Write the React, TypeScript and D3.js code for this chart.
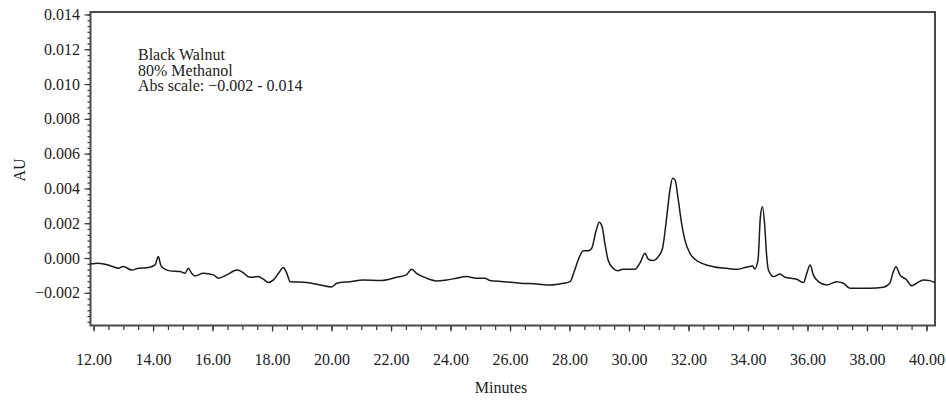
import * as d3 from 'd3'

const minutes = [
  11.88, 12.14, 12.54, 12.82, 12.98, 13.27, 13.49, 13.83, 14.05, 14.16, 14.24, 14.33, 14.55, 14.89,
  15.06, 15.17, 15.28, 15.39, 15.67, 16.01, 16.18, 16.46, 16.8, 16.96, 17.24, 17.52, 17.69, 17.86,
  18.03, 18.2, 18.36, 18.48, 18.59, 19.15, 19.6, 19.99, 20.16, 20.6, 21.05, 21.61, 22.17, 22.5,
  22.67, 22.84, 23.18, 23.51, 23.85, 24.19, 24.52, 24.86, 25.14, 25.31, 25.76, 26.32, 26.88, 27.33,
  27.78, 28.0, 28.14, 28.3, 28.45, 28.62, 28.73, 28.87, 28.98, 29.08, 29.17, 29.28, 29.45, 29.61,
  29.78, 30.18, 30.35, 30.52, 30.63, 30.78, 30.97, 31.11, 31.24, 31.36, 31.45, 31.53, 31.64, 31.75,
  31.86, 32.03, 32.2, 32.48, 32.81, 33.26, 33.6, 33.93, 34.14, 34.21, 34.32, 34.4, 34.47, 34.55,
  34.6, 34.67, 34.84, 35.06, 35.23, 35.62, 35.85, 35.96, 36.07, 36.18, 36.35, 36.63, 36.96, 37.19,
  37.41, 37.75, 38.08, 38.53, 38.75, 38.87, 38.96, 39.09, 39.32, 39.48, 39.65, 39.88, 40.1, 40.25,
]

const absorbance = [
  -0.00031, -0.00027, -0.00041, -0.00056, -0.00046, -0.00066, -0.00056, -0.00052, -0.00037, 0.00011,
  -0.00037, -0.00056, -0.00071, -0.00075, -0.00085, -0.00056, -0.00085, -0.001, -0.00085, -0.00094,
  -0.00113, -0.00094, -0.00066, -0.00075, -0.00108, -0.00104, -0.00119, -0.00138, -0.00123,
  -0.00085, -0.00052, -0.00085, -0.00133, -0.00138, -0.00152, -0.00163, -0.00142, -0.00133,
  -0.00123, -0.00127, -0.00108, -0.00094, -0.00062, -0.00085, -0.00113, -0.00129, -0.00123,
  -0.00113, -0.00104, -0.00113, -0.00113, -0.00127, -0.00133, -0.00142, -0.00146, -0.00152,
  -0.00142, -0.00133, -0.00075, 0.00003, 0.00045, 0.00045, 0.00059, 0.00155, 0.00209, 0.00183,
  0.00088, -0.00008, -0.00056, -0.0007, -0.00062, -0.00062, -0.00027, 0.0003, -0.00004, -0.00012,
  0.00011, 0.00059, 0.00222, 0.00394, 0.00461, 0.00452, 0.00337, 0.00203, 0.00107, 0.0003,
  -0.00004, -0.00031, -0.00047, -0.00056, -0.00062, -0.0005, -0.00043, -0.0006, -0.00008, 0.00241,
  0.00298, 0.0018, 0.0004, -0.00066, -0.00104, -0.00089, -0.00108, -0.00119, -0.00138, -0.00085,
  -0.00037, -0.00094, -0.00133, -0.00152, -0.00133, -0.00142, -0.00171, -0.00171, -0.00171,
  -0.00165, -0.00142, -0.00075, -0.00047, -0.00094, -0.00123, -0.00157, -0.00142, -0.00123,
  -0.00127, -0.00138,
]

const xTickValues = [12, 14, 16, 18, 20, 22, 24, 26, 28, 30, 32, 34, 36, 38, 40]
const yTickValues = [-0.002, 0, 0.002, 0.004, 0.006, 0.008, 0.01, 0.012, 0.014]
const notes = ['Black Walnut', '80% Methanol', 'Abs scale: \u22120.002 - 0.014']

const font = '"Liberation Serif", "Times New Roman", serif'
const ink = '#222'
const fs = 16

const x = d3.scaleLinear().domain([11.88, 40.27]).range([90.5, 935])
const y = d3.scaleLinear().domain([-0.00385, 0.01417]).range([325.5, 12])

const points = minutes.map((m, i) => [m, absorbance[i]] as [number, number])
const line = d3
  .line<[number, number]>()
  .x(d => x(d[0]))
  .y(d => y(d[1]))
  .curve(d3.curveMonotoneX)

const xMinor = d3.range(12, 40.01, 0.5)
const yMinor = d3.range(-0.014, 0.0142, 0.002 / 6).filter(v => v >= -0.00385 && v <= 0.01417)

const fmtY = (v: number) => {
  const s = Math.abs(v).toFixed(3)
  return v < -1e-9 ? '\u2212' + s : s
}

export default function App() {
  const [x0, x1] = x.range()
  const [y0, y1] = y.range()
  return (
    <>
      <style>{'body{margin:0}'}</style>
      <svg width={946} height={404} style={{ display: 'block', background: '#fff' }}>
        {/* y axis ticks */}
        <g stroke="#333" strokeWidth={1.2}>
          {yMinor.map((v, i) => (
            <line key={i} x1={x0 - 3} x2={x0} y1={y(v)} y2={y(v)} />
          ))}
          {yTickValues.map(v => (
            <line key={v} x1={x0 - 6} x2={x0} y1={y(v)} y2={y(v)} />
          ))}
        </g>
        <g fontFamily={font} fontSize={fs} fill={ink} textAnchor="end">
          {yTickValues.map(v => (
            <text key={v} x={80} y={y(v) + 5}>
              {fmtY(v)}
            </text>
          ))}
        </g>
        {/* x axis ticks */}
        <g stroke="#333" strokeWidth={1.2}>
          {xMinor.map((v, i) => (
            <line key={i} x1={x(v)} x2={x(v)} y1={y0} y2={y0 + 4.5} />
          ))}
          {xTickValues.map(v => (
            <line key={v} x1={x(v)} x2={x(v)} y1={y0} y2={y0 + 6} />
          ))}
        </g>
        <g fontFamily={font} fontSize={fs} fill={ink} textAnchor="middle">
          {xTickValues.map(v => (
            <text key={v} x={x(v)} y={365}>
              {v.toFixed(2)}
            </text>
          ))}
        </g>
        <text x={501} y={393} fontFamily={font} fontSize={fs} fill={ink} textAnchor="middle">
          Minutes
        </text>
        <text
          transform="translate(25,170) rotate(-90)"
          fontFamily={font}
          fontSize={fs}
          fill={ink}
          textAnchor="middle"
        >
          AU
        </text>
        {/* frame */}
        <rect x={x0} y={y1} width={x1 - x0} height={y0 - y1} fill="none" stroke="#4a4a4a" strokeWidth={2} />
        {/* chromatogram trace */}
        <path d={line(points) ?? ''} fill="none" stroke="#1a1a1a" strokeWidth={1.5} strokeLinejoin="round" />
        <g fontFamily={font} fontSize={fs} fill={ink}>
          {notes.map((t, i) => (
            <text key={i} x={138} y={60 + i * 15.5}>
              {t}
            </text>
          ))}
        </g>
      </svg>
    </>
  )
}
